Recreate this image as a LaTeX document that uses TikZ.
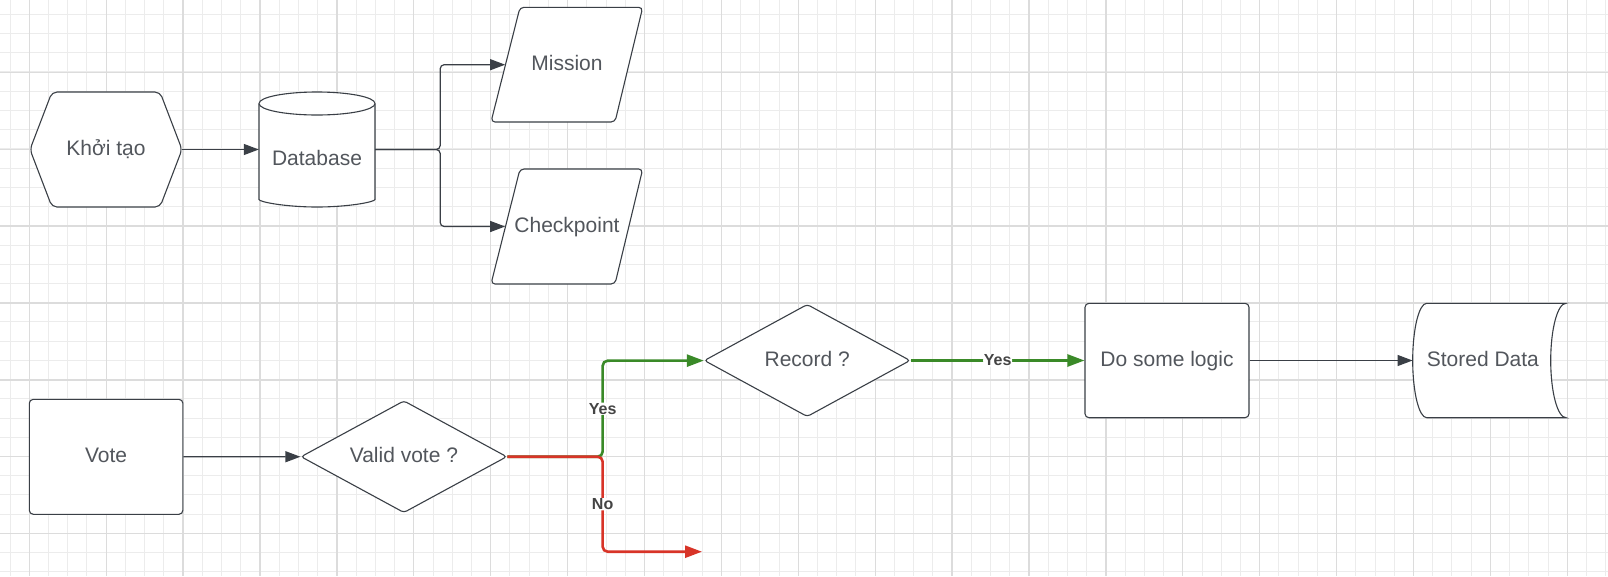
\documentclass[tikz,border=0pt]{standalone}
\usepackage{fontspec}
\setmainfont{Liberation Sans}
\usepackage{tikz}
\usetikzlibrary{arrows.meta,shapes.geometric}
\definecolor{gridminor}{RGB}{236,236,236}
\definecolor{gridmajor}{RGB}{220,220,220}
\definecolor{edge}{RGB}{58,63,70}
\definecolor{txt}{RGB}{82,86,92}
\definecolor{labtxt}{RGB}{68,68,68}
\definecolor{yesgreen}{RGB}{58,138,40}
\definecolor{nored}{RGB}{216,52,40}

\begin{document}
\begin{tikzpicture}[x=1pt,y=-1pt]
					\tikzstyle{block}=[rectangle,text=txt,font=\fontsize{21}{25}\selectfont,inner sep=0pt,text height=15pt,text depth=4pt]
					\tikzstyle{outline}=[draw=edge,fill=white,line width=1.1pt,rounded corners=4pt]
					\tikzstyle{process}=[block,draw=edge,fill=white,line width=1.1pt,rounded corners=4pt]
					\tikzstyle{decision}=[diamond,aspect=1.7,draw=edge,fill=white,line width=1.1pt,rounded corners=3pt,text=txt,font=\fontsize{21}{25}\selectfont,inner sep=0pt,text height=15pt,text depth=4pt]
					\tikzstyle{conn}=[draw=edge,line width=1.2pt,-{Triangle[length=15pt,width=11pt]}]
					\tikzstyle{yes}=[draw=yesgreen,line width=2.6pt,rounded corners=5pt,-{Triangle[length=17pt,width=12pt]}]
					\tikzstyle{no}=[draw=nored,line width=2.6pt,rounded corners=5pt,-{Triangle[length=17pt,width=12pt]}]
					\tikzstyle{lab}=[fill=white,inner sep=0.6pt,text=labtxt,font=\fontsize{16}{19}\selectfont\bfseries]
					\useasboundingbox (0,0) rectangle (1608,576);
					\fill[white] (0,0) rectangle (1608,576);
					\foreach \i in {0,...,83}
						\draw[gridminor,line width=1pt] ({10.07+\i*19.225},0) -- ++(0,576);
					\foreach \i in {0,...,29}
						\draw[gridminor,line width=1pt] (0,{14.3+\i*19.225}) -- ++(1608,0);
					\foreach \i in {0,...,20}
						\draw[gridmajor,line width=1.3pt] ({29.3+\i*76.9},0) -- ++(0,576);
					\foreach \i in {0,...,6}
						\draw[gridmajor,line width=1.3pt] (0,{72.3+\i*76.9}) -- ++(1608,0);
					\draw[outline,rounded corners=5pt] (30,149.5) -- (52,92) -- (160,92) -- (182,149.5) -- (160,207) -- (52,207) -- cycle;
					\draw[outline] (259,103.5) -- (259,195.5) arc[start angle=180,end angle=0,x radius=58,y radius=11.5] -- (375,103.5);
					\draw[outline] (317,103.5) ellipse [x radius=58,y radius=11.5];
					\draw[outline] (520,7.3) -- (642.7,7.3) -- (615,122) -- (491,122) -- cycle;
					\draw[outline] (520,169) -- (642.7,169) -- (615,284) -- (491,284) -- cycle;
					\draw[outline,rounded corners=0pt] (1426.7,303.3) -- (1566,303.3) arc[start angle=270,end angle=90,x radius=15.3,y radius=57.2] -- (1426.7,417.7) arc[start angle=90,end angle=270,x radius=14,y radius=57.2] -- cycle;
					\node[block,minimum width=152pt,minimum height=115pt] (1) at (106,149.5) {Khởi tạo};
					\node[block,minimum width=116pt,minimum height=115pt,text height=36pt] (2) at (317,149.5) {Database};
					\node[block,minimum width=123.3pt,minimum height=115pt] (3) at (567,64.7) {Mission};
					\node[block,minimum width=123.3pt,minimum height=115pt] (4) at (567,226.5) {Checkpoint};
					\node[process,minimum width=153.6pt,minimum height=115pt] (5) at (106.1,456.8) {Vote};
					\node[decision,minimum width=206pt,minimum height=112pt] (6) at (403.9,456.7) {Valid vote ?};
					\node[decision,minimum width=206pt,minimum height=112.4pt] (7) at (807.2,360.5) {Record ?};
					\node[process,minimum width=164pt,minimum height=114.4pt] (8) at (1167,360.5) {Do some logic};
					\node[block,minimum width=140.3pt,minimum height=114.4pt] (9) at (1482.9,360.5) {Stored Data};
					\coordinate (10) at (702,551.7);
					\draw[conn] (1) -- (2);
					\draw[conn,rounded corners=4pt] (2.east) -- ++(65,0) |- (3);
					\draw[conn,rounded corners=4pt] (2.east) -- ++(65,0) |- (4);
					\draw[conn] (5) -- (6);
					\draw[yes] (6.east) -- ++(95.2,0) -- node[lab] {Yes} ++(0,-96) -- (7);
					\draw[no] (6.east) -- ++(95.2,0) -- node[lab] {No} ++(0,95) -- (10);
					\draw[yes] (7) -- node[lab] {Yes} (8);
					\draw[conn] (8) -- (9);
\end{tikzpicture}
\end{document}
